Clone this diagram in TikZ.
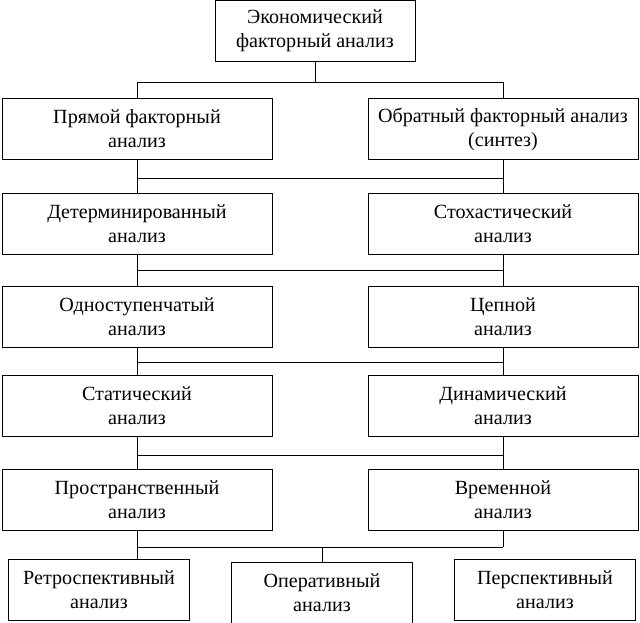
\documentclass[tikz,border=0pt]{standalone}
\usepackage{fontspec}
\setmainfont{Liberation Serif}
\usetikzlibrary{positioning}

\begin{document}
\begin{tikzpicture}[x=0.025cm, y=-0.025cm,
    box/.style={draw, line width=0.7pt, minimum width=270*0.025cm, minimum height=61*0.025cm, align=center, font=\fontsize{14.3}{17}\selectfont},
    small box/.style={box, minimum width=181*0.025cm},
    link/.style={draw, line width=0.7pt}]
        \useasboundingbox (0,0) rectangle (640,623);
        \node[box, minimum width=200*0.025cm] (eco) at (315,31) {Экономический\\факторный анализ};

        \node[box] (direct) at (137,129) {Прямой факторный\\анализ};
        \node[box] (inverse) at (503,129) {Обратный факторный анализ\\(синтез)};
        \node[box] (determ) at (137,224) {Детерминированный\\анализ};
        \node[box] (stoch) at (503,224) {Стохастический\\анализ};
        \node[box] (onestep) at (137,317) {Одноступенчатый\\анализ};
        \node[box] (chain) at (503,317) {Цепной\\анализ};
        \node[box] (static) at (137,406) {Статический\\анализ};
        \node[box] (dynamic) at (503,406) {Динамический\\анализ};
        \node[box] (space) at (137,500) {Пространственный\\анализ};
        \node[box] (time) at (503,500) {Временной\\анализ};

        \node[small box] (retro) at (99,590) {Ретроспективный\\анализ};
        \node[small box] (oper) at (322,593) {Оперативный\\анализ};
        \node[small box] (persp) at (545,590) {Перспективный\\анализ};

        % junctions
        \coordinate (j1) at (315,82);
        \coordinate (j2) at (137,178);
        \coordinate (j3) at (137,270);
        \coordinate (j4) at (137,362);
        \coordinate (j5) at (137,455);
        \coordinate (j6) at (137,547);

        \path[link] (eco) -- (j1) (j1 -| direct) -- (j1 -| inverse)
            (j1 -| direct) -- (direct) (j1 -| inverse) -- (inverse);
        \path[link] (direct) -- (determ) (inverse) -- (stoch) (j2) -- (j2 -| inverse);
        \path[link] (determ) -- (onestep) (stoch) -- (chain) (j3) -- (j3 -| chain);
        \path[link] (onestep) -- (static) (chain) -- (dynamic) (j4) -- (j4 -| dynamic);
        \path[link] (static) -- (space) (dynamic) -- (time) (j5) -- (j5 -| time);
        \path[link] (space) -- (j6) (time) -- (j6 -| time) (j6) -- (j6 -| time)
            (j6 -| oper) -- (oper) (j6) -- (j6 |- retro.north) (j6 -| time) -- (j6 -| time |- persp.north);
\end{tikzpicture}
\end{document}
